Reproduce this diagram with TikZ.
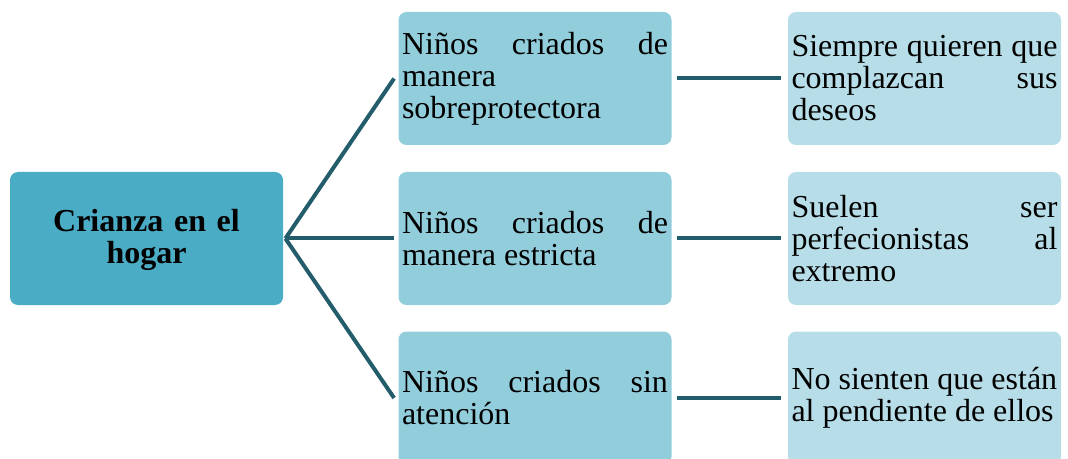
\documentclass[tikz,border=0pt]{standalone}
\usepackage{fontspec}
\setmainfont{Liberation Serif}
\definecolor{cmain}{HTML}{4BACC6}
\definecolor{cmid}{HTML}{92CDDC}
\definecolor{cright}{HTML}{B7DEE8}
\definecolor{cline}{HTML}{235C6B}
\begin{document}
\begin{tikzpicture}[x=0.5pt,y=-0.5pt,
  box/.style={rounded corners=4pt, minimum width=136.5pt, minimum height=66.5pt,
    inner xsep=1.75pt, inner ysep=0pt, text width=133pt, align=justify,
    font=\rmfamily\fontsize{16}{16}\selectfont},
  mainbox/.style={box, fill=cmain, align=center, font=\rmfamily\fontsize{16}{16}\selectfont\bfseries},
  midbox/.style={box, fill=cmid},
  rbox/.style={box, fill=cright},
  conn/.style={draw=cline, line width=2pt}]
\useasboundingbox (0,0) rectangle (1068,459);
\node[mainbox] (c) at (146.5,238.5) {\vphantom{C}\\[-14pt]Crianza en el\\hogar};
\node[midbox] (m1) at (535,78.5) {\strut Niños criados de\linebreak manera\newline sobreprotectora};
\node[midbox] (m2) at (535,238.5) {Niños criados de\linebreak manera estricta};
\node[midbox] (m3) at (535,398) {Niños criados sin\linebreak atención};
\node[rbox] (r1) at (924.5,78.5) {Siempre quieren que\linebreak complazcan sus\linebreak deseos};
\node[rbox] (r2) at (924.5,238.5) {Suelen ser\linebreak perfecionistas al\linebreak extremo};
\node[rbox] (r3) at (924.5,398) {No sienten que están\newline al pendiente de ellos};
\coordinate (hub) at ([xshift=1pt]c.east);
\draw[conn] (hub) -- ([xshift=-2pt]m1.west);
\draw[conn] (hub) -- ([xshift=-2pt]m2.west);
\draw[conn] (hub) -- ([xshift=-2pt]m3.west);
\draw[conn] ([xshift=2.5pt]m1.east) -- ([xshift=-3.5pt]r1.west);
\draw[conn] ([xshift=2.5pt]m2.east) -- ([xshift=-3.5pt]r2.west);
\draw[conn] ([xshift=2.5pt]m3.east) -- ([xshift=-3.5pt]r3.west);
\end{tikzpicture}
\end{document}
